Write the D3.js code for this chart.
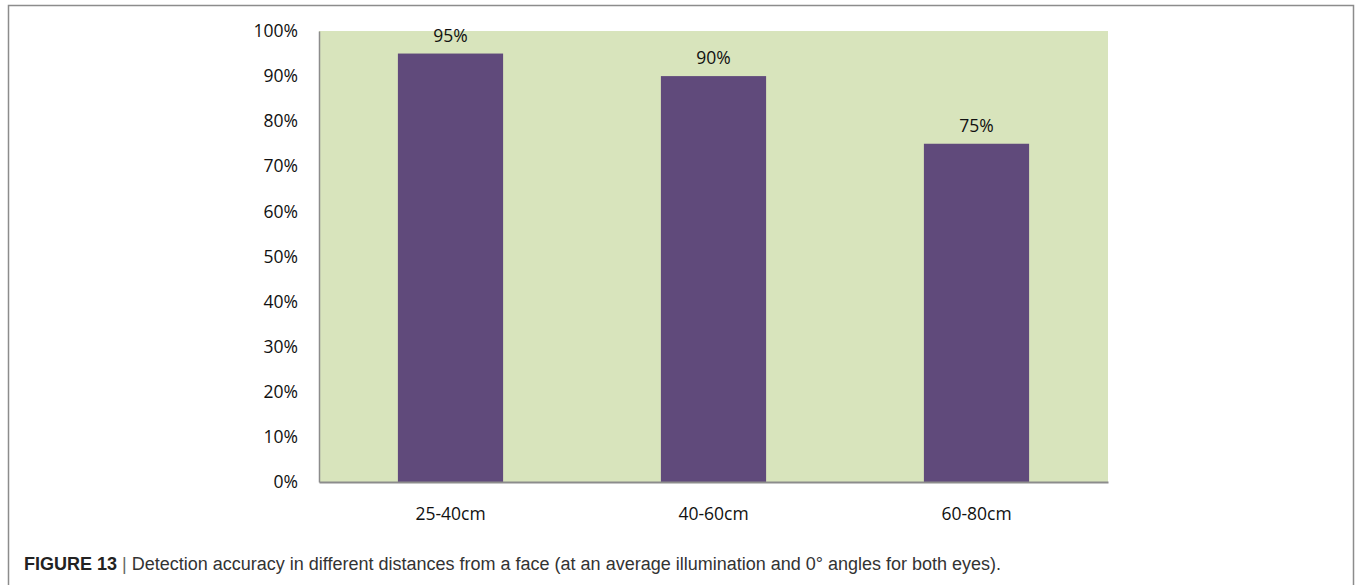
<!DOCTYPE html>
<html>
<head>
<meta charset="utf-8">
<script src="https://cdn.jsdelivr.net/npm/d3@7"></script>
<style>
  body { margin: 0; background: #fff; }
  svg text { font-family: "Open Sans", sans-serif; }
</style>
</head>
<body>
<svg id="chart" width="1356" height="585"></svg>
<script>
// data
const categories = ['25-40cm', '40-60cm', '60-80cm'];
const accuracy = [0.95, 0.90, 0.75];
const yTicks = [0, 0.1, 0.2, 0.3, 0.4, 0.5, 0.6, 0.7, 0.8, 0.9, 1.0];

const svg = d3.select('#chart');

// figure frame (bottom edge runs off the picture)
svg.append('path')
    .attr('d', 'M8.5,600 V5.5 H1353.5 V600')
    .attr('fill', 'none')
    .attr('stroke', '#8c8c8c')
    .attr('stroke-width', 1.5);

const plot = { left: 319, right: 1108, top: 31, bottom: 482 };

let x = d3.scaleBand()
    .domain(categories)
    .range([plot.left, plot.right])
    .paddingInner(0.6)
    .paddingOuter(0.3);

let y = d3.scaleLinear()
    .domain([0, 1])
    .range([plot.bottom, plot.top]);

// plot background
svg.append('rect')
    .attr('x', plot.left)
    .attr('y', plot.top)
    .attr('width', plot.right - plot.left)
    .attr('height', plot.bottom - plot.top)
    .attr('fill', '#d8e4bc');

svg.append('g')
    .selectAll('rect')
    .data(accuracy)
    .enter().append('rect')
    .attr('x', (d, i) => x(categories[i]))
    .attr('y', d => y(d))
    .attr('width', x.bandwidth())
    .attr('height', d => y(0) - y(d))
    .attr('fill', '#604a7b');

svg.append('g')
    .selectAll('text')
    .data(accuracy)
    .enter().append('text')
    .attr('x', (d, i) => x(categories[i]) + x.bandwidth() / 2)
    .attr('y', d => y(d) - 12)
    .attr('text-anchor', 'middle')
    .attr('font-size', 17.5)
    .attr('fill', '#111')
    .text(d => d3.format('.0%')(d));

// y axis
let yAxis = svg.append('g')
    .attr('transform', `translate(${plot.left},0)`)
    .call(d3.axisLeft(y).tickValues(yTicks).tickFormat(d3.format('.0%')).tickSize(0).tickPadding(21));
yAxis.select('.domain').attr('stroke', '#8c8c8c').attr('stroke-width', 1.5);
yAxis.selectAll('text').attr('font-size', 17.5).attr('fill', '#111')
    .style('font-family', '"Open Sans", sans-serif');

// x axis
let xAxis = svg.append('g')
    .attr('transform', `translate(0,${plot.bottom})`)
    .call(d3.axisBottom(x).tickSize(0).tickPadding(26));
xAxis.select('.domain').attr('stroke', '#8c8c8c').attr('stroke-width', 2);
xAxis.selectAll('text').attr('font-size', 17.5).attr('fill', '#111')
    .style('font-family', '"Open Sans", sans-serif');

// caption
let cap = svg.append('text')
    .attr('x', 24)
    .attr('y', 570)
    .attr('font-size', 18)
    .attr('fill', '#333')
    .style('font-family', '"Liberation Sans", Arial, sans-serif');
cap.append('tspan').attr('font-weight', 'bold').attr('fill', '#222').text('FIGURE 13');
cap.append('tspan').attr('fill', '#666').text(' | ');
cap.append('tspan').text('Detection accuracy in different distances from a face (at an average illumination and 0° angles for both eyes).');
</script>
</body>
</html>
